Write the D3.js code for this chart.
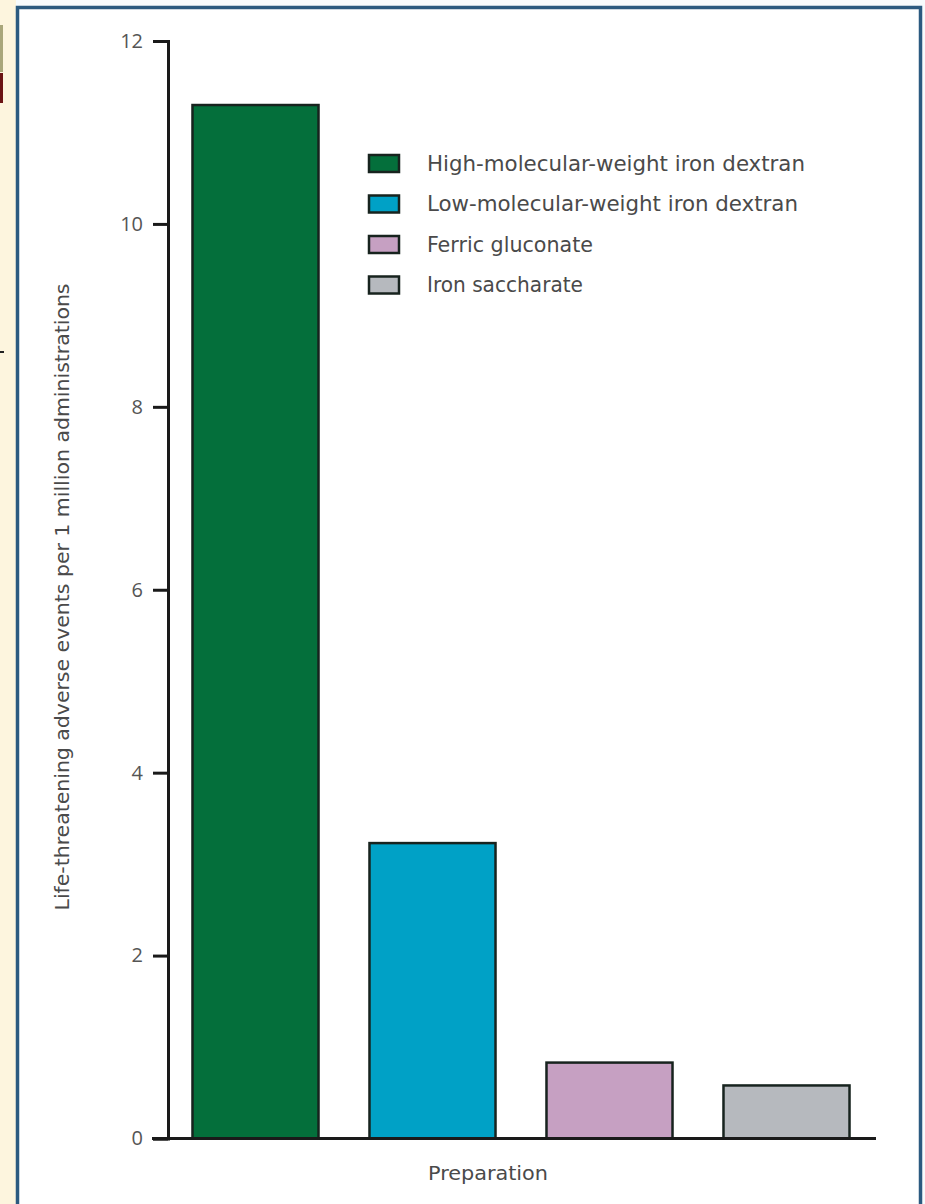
<!DOCTYPE html>
<html>
<head>
<meta charset="utf-8">
<script src="https://cdn.jsdelivr.net/npm/d3@7"></script>
<style>
  html, body { margin: 0; padding: 0; background: #ffffff; }
  svg { display: block; }
</style>
</head>
<body>
<svg id="chart" width="925" height="1204"></svg>
<script>
// ---- data ----
const categories = [
  "High-molecular-weight iron dextran",
  "Low-molecular-weight iron dextran",
  "Ferric gluconate",
  "Iron saccharate"
];
const values = [11.3, 3.23, 0.83, 0.58];
const colors = ["#046f3b", "#00a1c6", "#c6a0c2", "#b6b9be"];
const yTicks = [0, 2, 4, 6, 8, 10, 12];
const yTitle = "Life-threatening adverse events per 1 million administrations";
const xTitle = "Preparation";

// ---- layout ----
const svg = d3.select("#chart");
const W = 925, H = 1204;
const font = "'Liberation Sans Narrow', 'DejaVu Sans Condensed', 'Open Sans', sans-serif";
const textCol = "#4a4a4a";

// outside strips
svg.append("rect").attr("x", 0).attr("y", 0).attr("width", W).attr("height", H).attr("fill", "#f7fbfd");
svg.append("rect").attr("x", 0).attr("y", 0).attr("width", 16).attr("height", H).attr("fill", "#fdf5de");
svg.append("rect").attr("x", 0).attr("y", 25).attr("width", 3).attr("height", 47).attr("fill", "#a9a67a");
svg.append("rect").attr("x", 0).attr("y", 73).attr("width", 3).attr("height", 30).attr("fill", "#6b1414");
svg.append("rect").attr("x", 0).attr("y", 351).attr("width", 4).attr("height", 2).attr("fill", "#222");

// frame
svg.append("rect")
  .attr("x", 17.5).attr("y", 7.5).attr("width", 903).attr("height", 1220)
  .attr("fill", "#ffffff").attr("stroke", "#2b5a80").attr("stroke-width", 3.5);

const x = d3.scaleBand().domain(categories).range([167, 875])
  .paddingInner(0.288).paddingOuter(0.144);
const y = d3.scaleLinear().domain([0, 12]).range([1138.5, 41]);

// bars
svg.append("g").selectAll("rect").data(categories).join("rect")
  .attr("x", d => x(d))
  .attr("y", (d, i) => y(values[i]))
  .attr("width", x.bandwidth())
  .attr("height", (d, i) => y(0) - y(values[i]))
  .attr("fill", (d, i) => colors[i])
  .attr("stroke", "#17231e").attr("stroke-width", 2.5);

// y axis
const yAxis = d3.axisLeft(y).tickValues(yTicks).tickSize(15).tickPadding(10).tickFormat(d3.format("d"));
const gy = svg.append("g").attr("transform", "translate(168,0)").call(yAxis);
gy.select(".domain").attr("stroke", "#1a1a1a").attr("stroke-width", 3);
gy.selectAll(".tick line").attr("stroke", "#1a1a1a").attr("stroke-width", 3);
gy.selectAll(".tick text").attr("fill", "#555").attr("font-family", "'Open Sans', 'DejaVu Sans', sans-serif")
  .attr("font-size", 20);

// x baseline
const xAxis = d3.axisBottom(x).tickSize(0).tickFormat("");
const gx = svg.append("g").attr("transform", `translate(0,${y(0)})`).call(xAxis);
gx.select(".domain").remove();
gx.append("line").attr("x1", 152).attr("x2", 876).attr("y1", 0).attr("y2", 0)
  .attr("stroke", "#1a1a1a").attr("stroke-width", 3);

// axis titles
svg.append("text")
  .attr("transform", "translate(69,597) rotate(-90)")
  .attr("text-anchor", "middle")
  .attr("font-family", font).attr("font-size", 19).attr("fill", textCol)
  .attr("textLength", 627).attr("lengthAdjust", "spacingAndGlyphs")
  .text(yTitle);

svg.append("text")
  .attr("x", 488).attr("y", 1180)
  .attr("text-anchor", "middle")
  .attr("font-family", font).attr("font-size", 20).attr("fill", textCol)
  .attr("textLength", 120).attr("lengthAdjust", "spacingAndGlyphs")
  .text(xTitle);

// legend
const legendWidths = [378, 371, 166, 156];
const leg = svg.append("g").selectAll("g").data(categories).join("g")
  .attr("transform", (d, i) => `translate(369,${163.5 + i * 40.5})`);
leg.append("rect").attr("x", 0).attr("y", -8.5).attr("width", 30).attr("height", 17)
  .attr("fill", (d, i) => colors[i]).attr("stroke", "#17231e").attr("stroke-width", 2.5);
leg.append("text").attr("x", 58).attr("y", 7)
  .attr("font-family", font).attr("font-size", 21).attr("fill", textCol)
  .attr("textLength", (d, i) => legendWidths[i]).attr("lengthAdjust", "spacingAndGlyphs")
  .text(d => d);
</script>
</body>
</html>
